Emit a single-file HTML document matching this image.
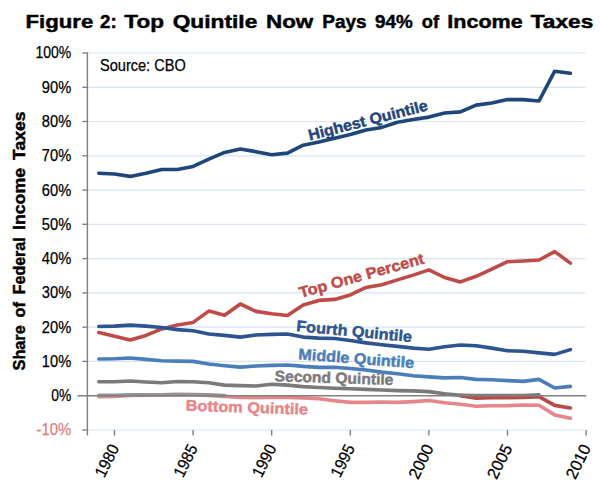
<!DOCTYPE html>
<html><head><meta charset="utf-8"><title>Figure 2: Top Quintile Now Pays 94% of Income Taxes</title>
<style>html,body{margin:0;padding:0;background:#fff}svg{display:block}text{font-family:"Liberation Sans",sans-serif;stroke-width:.25px}.b{font-weight:bold;stroke-width:.45px;stroke-linejoin:round}</style></head><body>
<svg width="600" height="484" viewBox="0 0 600 484">
<rect width="600" height="484" fill="#fff"/>
<g stroke="#d8e3f3" stroke-width="1.2"><line x1="87.5" x2="585.6" y1="53.0" y2="53.0"/><line x1="87.5" x2="585.6" y1="87.3" y2="87.3"/><line x1="87.5" x2="585.6" y1="121.5" y2="121.5"/><line x1="87.5" x2="585.6" y1="155.8" y2="155.8"/><line x1="87.5" x2="585.6" y1="190.1" y2="190.1"/><line x1="87.5" x2="585.6" y1="224.3" y2="224.3"/><line x1="87.5" x2="585.6" y1="258.6" y2="258.6"/><line x1="87.5" x2="585.6" y1="292.9" y2="292.9"/><line x1="87.5" x2="585.6" y1="327.2" y2="327.2"/><line x1="87.5" x2="585.6" y1="361.4" y2="361.4"/><line x1="87.5" x2="585.6" y1="430.0" y2="430.0"/></g>
<g stroke="#808080" stroke-width="1.4"><line x1="87.4" x2="87.4" y1="52.4" y2="435.6"/><line x1="82.4" x2="87.4" y1="53.0" y2="53.0"/><line x1="82.4" x2="87.4" y1="87.3" y2="87.3"/><line x1="82.4" x2="87.4" y1="121.5" y2="121.5"/><line x1="82.4" x2="87.4" y1="155.8" y2="155.8"/><line x1="82.4" x2="87.4" y1="190.1" y2="190.1"/><line x1="82.4" x2="87.4" y1="224.3" y2="224.3"/><line x1="82.4" x2="87.4" y1="258.6" y2="258.6"/><line x1="82.4" x2="87.4" y1="292.9" y2="292.9"/><line x1="82.4" x2="87.4" y1="327.2" y2="327.2"/><line x1="82.4" x2="87.4" y1="361.4" y2="361.4"/><line x1="82.4" x2="87.4" y1="430.0" y2="430.0"/><line x1="114.5" x2="114.5" y1="430" y2="435.6"/><line x1="193.1" x2="193.1" y1="430" y2="435.6"/><line x1="271.7" x2="271.7" y1="430" y2="435.6"/><line x1="350.3" x2="350.3" y1="430" y2="435.6"/><line x1="428.9" x2="428.9" y1="430" y2="435.6"/><line x1="507.5" x2="507.5" y1="430" y2="435.6"/><line x1="586.1" x2="586.1" y1="430" y2="435.6"/></g>
<g fill="none" stroke-width="3.6" stroke-linecap="round" stroke-linejoin="round">
<path stroke="#e6868b" d="M98.8,396.6 L114.5,396.4 L130.2,395.5 L146.0,395.2 L161.7,395.2 L177.4,394.8 L193.1,395.0 L208.8,395.4 L224.6,396.4 L240.3,397.4 L256.0,397.7 L271.7,397.4 L287.4,397.4 L303.2,397.9 L318.9,398.7 L334.6,400.7 L350.3,402.4 L366.0,402.4 L381.8,402.0 L397.5,402.4 L413.2,401.6 L428.9,400.5 L444.6,402.7 L460.4,404.3 L476.1,406.2 L491.8,405.8 L507.5,405.6 L523.2,405.0 L539.0,405.3 L554.7,414.9 L570.4,418.3"/>
<path stroke="#949494" d="M98.8,395.4 L114.5,395.2 L130.2,394.8 L146.0,394.8 L161.7,394.8 L177.4,394.3 L193.1,394.5 L208.8,394.8 L224.6,395.5"/>
<path stroke="#7a7a7a" d="M460.4,395.4 L476.1,395.5 L491.8,395.5 L507.5,395.5 L523.2,395.5 L539.0,394.8"/>
<path stroke="#b84a48" d="M460.4,395.7 L476.1,398.3 L491.8,397.8 L507.5,397.6 L523.2,397.4 L539.0,396.6 L554.7,405.4 L570.4,408.0"/>
<path stroke="#7a7a7a" d="M98.8,381.8 L114.5,381.8 L130.2,381.0 L146.0,382.0 L161.7,382.7 L177.4,381.5 L193.1,381.8 L208.8,382.7 L224.6,385.1 L240.3,385.6 L256.0,386.0 L271.7,384.2 L287.4,385.1 L303.2,386.6 L318.9,387.5 L334.6,388.2 L350.3,388.8 L366.0,389.4 L381.8,390.0 L397.5,390.6 L413.2,390.9 L428.9,391.6 L444.6,393.8 L460.4,395.4"/>
<path stroke="#4a7ebb" d="M98.8,359.0 L114.5,358.7 L130.2,358.0 L146.0,359.4 L161.7,360.7 L177.4,361.1 L193.1,361.4 L208.8,364.0 L224.6,365.7 L240.3,367.1 L256.0,366.0 L271.7,365.4 L287.4,365.0 L303.2,366.4 L318.9,367.4 L334.6,367.3 L350.3,368.5 L366.0,370.0 L381.8,372.1 L397.5,373.8 L413.2,375.7 L428.9,376.9 L444.6,377.9 L460.4,377.5 L476.1,379.4 L491.8,379.8 L507.5,380.6 L523.2,381.4 L539.0,379.4 L554.7,388.0 L570.4,386.4"/>
<path stroke="#be4b48" d="M98.8,332.6 L114.5,336.2 L130.2,340.0 L146.0,335.4 L161.7,328.9 L177.4,325.1 L193.1,322.4 L208.8,311.1 L224.6,315.2 L240.3,304.0 L256.0,311.4 L271.7,313.8 L287.4,315.5 L303.2,304.9 L318.9,300.4 L334.6,299.4 L350.3,294.9 L366.0,287.4 L381.8,284.7 L397.5,279.9 L413.2,275.1 L428.9,269.9 L444.6,277.5 L460.4,281.9 L476.1,276.3 L491.8,269.2 L507.5,261.7 L523.2,261.0 L539.0,260.0 L554.7,251.6 L570.4,263.1"/>
<path stroke="#2c5590" d="M98.8,326.5 L114.5,326.1 L130.2,325.1 L146.0,326.1 L161.7,327.5 L177.4,329.6 L193.1,330.8 L208.8,334.0 L224.6,335.4 L240.3,337.1 L256.0,335.0 L271.7,334.4 L287.4,334.0 L303.2,337.1 L318.9,338.1 L334.6,338.5 L350.3,340.5 L366.0,342.9 L381.8,344.8 L397.5,346.4 L413.2,348.1 L428.9,349.3 L444.6,346.7 L460.4,345.0 L476.1,345.7 L491.8,348.1 L507.5,350.8 L523.2,351.3 L539.0,352.9 L554.7,354.4 L570.4,349.6"/>
<path stroke="#1f467a" d="M98.8,173.3 L114.5,174.0 L130.2,176.4 L146.0,173.3 L161.7,169.5 L177.4,169.5 L193.1,166.4 L208.8,159.2 L224.6,152.4 L240.3,149.0 L256.0,151.7 L271.7,154.8 L287.4,153.1 L303.2,145.2 L318.9,142.1 L334.6,138.3 L350.3,134.6 L366.0,130.1 L381.8,127.4 L397.5,122.2 L413.2,119.5 L428.9,117.1 L444.6,113.0 L460.4,111.9 L476.1,105.1 L491.8,103.0 L507.5,99.6 L523.2,99.6 L539.0,101.0 L554.7,71.2 L570.4,73.2"/>
</g>
<line x1="77.5" x2="586.2" y1="395.7" y2="395.7" stroke="#808080" stroke-width="1.4"/>
<text class="b" y="27.5" font-size="18.6" fill="#000" stroke="#000"><tspan x="25.50" textLength="67.80" lengthAdjust="spacingAndGlyphs">Figure</tspan> <tspan x="100.00" textLength="16.70" lengthAdjust="spacingAndGlyphs">2:</tspan> <tspan x="124.30" textLength="39.70" lengthAdjust="spacingAndGlyphs">Top</tspan> <tspan x="172.70" textLength="84.60" lengthAdjust="spacingAndGlyphs">Quintile</tspan> <tspan x="266.00" textLength="47.30" lengthAdjust="spacingAndGlyphs">Now</tspan> <tspan x="322.30" textLength="44.40" lengthAdjust="spacingAndGlyphs">Pays</tspan> <tspan x="375.00" textLength="37.70" lengthAdjust="spacingAndGlyphs">94%</tspan> <tspan x="421.70" textLength="17.30" lengthAdjust="spacingAndGlyphs">of</tspan> <tspan x="447.30" textLength="75.40" lengthAdjust="spacingAndGlyphs">Income</tspan> <tspan x="530.70" textLength="62.60" lengthAdjust="spacingAndGlyphs">Taxes</tspan></text>
<text x="100" y="71.3" font-size="15.7" textLength="85.7" lengthAdjust="spacingAndGlyphs" fill="#000" stroke="#000">Source: CBO</text>
<text x="35.4" y="58.4" font-size="16.6" textLength="35.8" lengthAdjust="spacingAndGlyphs" fill="#000" stroke="#000">100%</text>
<text x="41.8" y="92.7" font-size="16.6" textLength="29.4" lengthAdjust="spacingAndGlyphs" fill="#000" stroke="#000">90%</text>
<text x="41.8" y="126.9" font-size="16.6" textLength="29.4" lengthAdjust="spacingAndGlyphs" fill="#000" stroke="#000">80%</text>
<text x="41.8" y="161.2" font-size="16.6" textLength="29.4" lengthAdjust="spacingAndGlyphs" fill="#000" stroke="#000">70%</text>
<text x="41.8" y="195.5" font-size="16.6" textLength="29.4" lengthAdjust="spacingAndGlyphs" fill="#000" stroke="#000">60%</text>
<text x="41.8" y="229.8" font-size="16.6" textLength="29.4" lengthAdjust="spacingAndGlyphs" fill="#000" stroke="#000">50%</text>
<text x="41.8" y="264.0" font-size="16.6" textLength="29.4" lengthAdjust="spacingAndGlyphs" fill="#000" stroke="#000">40%</text>
<text x="41.8" y="298.3" font-size="16.6" textLength="29.4" lengthAdjust="spacingAndGlyphs" fill="#000" stroke="#000">30%</text>
<text x="41.8" y="332.6" font-size="16.6" textLength="29.4" lengthAdjust="spacingAndGlyphs" fill="#000" stroke="#000">20%</text>
<text x="41.8" y="366.8" font-size="16.6" textLength="29.4" lengthAdjust="spacingAndGlyphs" fill="#000" stroke="#000">10%</text>
<text x="51.2" y="401.1" font-size="16.6" textLength="20" lengthAdjust="spacingAndGlyphs" fill="#000" stroke="#000">0%</text>
<text x="36.6" y="435.4" font-size="16.6" textLength="34.6" lengthAdjust="spacingAndGlyphs" fill="#e07b7f" stroke="#e07b7f">-10%</text>
<text class="b" transform="translate(24.5,370.4) rotate(-90)" y="0" font-size="16.2" fill="#000" stroke="#000"><tspan x="0.00" textLength="45.10" lengthAdjust="spacingAndGlyphs">Share</tspan> <tspan x="53.00" textLength="15.30" lengthAdjust="spacingAndGlyphs">of</tspan> <tspan x="76.10" textLength="57.00" lengthAdjust="spacingAndGlyphs">Federal</tspan> <tspan x="140.40" textLength="62.00" lengthAdjust="spacingAndGlyphs">Income</tspan> <tspan x="210.40" textLength="48.60" lengthAdjust="spacingAndGlyphs">Taxes</tspan></text>
<text transform="translate(119.6,447.8) rotate(-63.5)" text-anchor="end" font-size="16.5" textLength="34.3" lengthAdjust="spacingAndGlyphs" fill="#000" stroke="#000">1980</text>
<text transform="translate(198.2,447.8) rotate(-63.5)" text-anchor="end" font-size="16.5" textLength="34.3" lengthAdjust="spacingAndGlyphs" fill="#000" stroke="#000">1985</text>
<text transform="translate(276.8,447.8) rotate(-63.5)" text-anchor="end" font-size="16.5" textLength="34.3" lengthAdjust="spacingAndGlyphs" fill="#000" stroke="#000">1990</text>
<text transform="translate(355.4,447.8) rotate(-63.5)" text-anchor="end" font-size="16.5" textLength="34.3" lengthAdjust="spacingAndGlyphs" fill="#000" stroke="#000">1995</text>
<text transform="translate(434.1,447.8) rotate(-63.5)" text-anchor="end" font-size="16.5" textLength="36.2" lengthAdjust="spacingAndGlyphs" fill="#000" stroke="#000">2000</text>
<text transform="translate(512.7,447.8) rotate(-63.5)" text-anchor="end" font-size="16.5" textLength="36.2" lengthAdjust="spacingAndGlyphs" fill="#000" stroke="#000">2005</text>
<text transform="translate(591.3,447.8) rotate(-63.5)" text-anchor="end" font-size="16.5" textLength="36.2" lengthAdjust="spacingAndGlyphs" fill="#000" stroke="#000">2010</text>
<text class="b" transform="translate(309.8,140.4) rotate(-14.3)" font-size="15.4" textLength="122.7" lengthAdjust="spacingAndGlyphs" fill="#1f467a" stroke="#1f467a">Highest Quintile</text>
<text class="b" transform="translate(300.7,297.9) rotate(-15.6)" font-size="15.4" textLength="129" lengthAdjust="spacingAndGlyphs" fill="#be4b48" stroke="#be4b48">Top One Percent</text>
<text class="b" transform="translate(296,331) rotate(5.5)" font-size="15.4" textLength="116" lengthAdjust="spacingAndGlyphs" fill="#2c5590" stroke="#2c5590">Fourth Quintile</text>
<text class="b" transform="translate(298,359.2) rotate(4.4)" font-size="15.4" textLength="116" lengthAdjust="spacingAndGlyphs" fill="#4a7ebb" stroke="#4a7ebb">Middle Quintile</text>
<text class="b" transform="translate(274.6,381.2) rotate(1.8)" font-size="15.4" textLength="118.7" lengthAdjust="spacingAndGlyphs" fill="#7a7a7a" stroke="#7a7a7a">Second Quintile</text>
<text class="b" transform="translate(185.5,410.6) rotate(1.9)" font-size="15.4" textLength="122.5" lengthAdjust="spacingAndGlyphs" fill="#e6868b" stroke="#e6868b">Bottom Quintile</text>
</svg></body></html>
